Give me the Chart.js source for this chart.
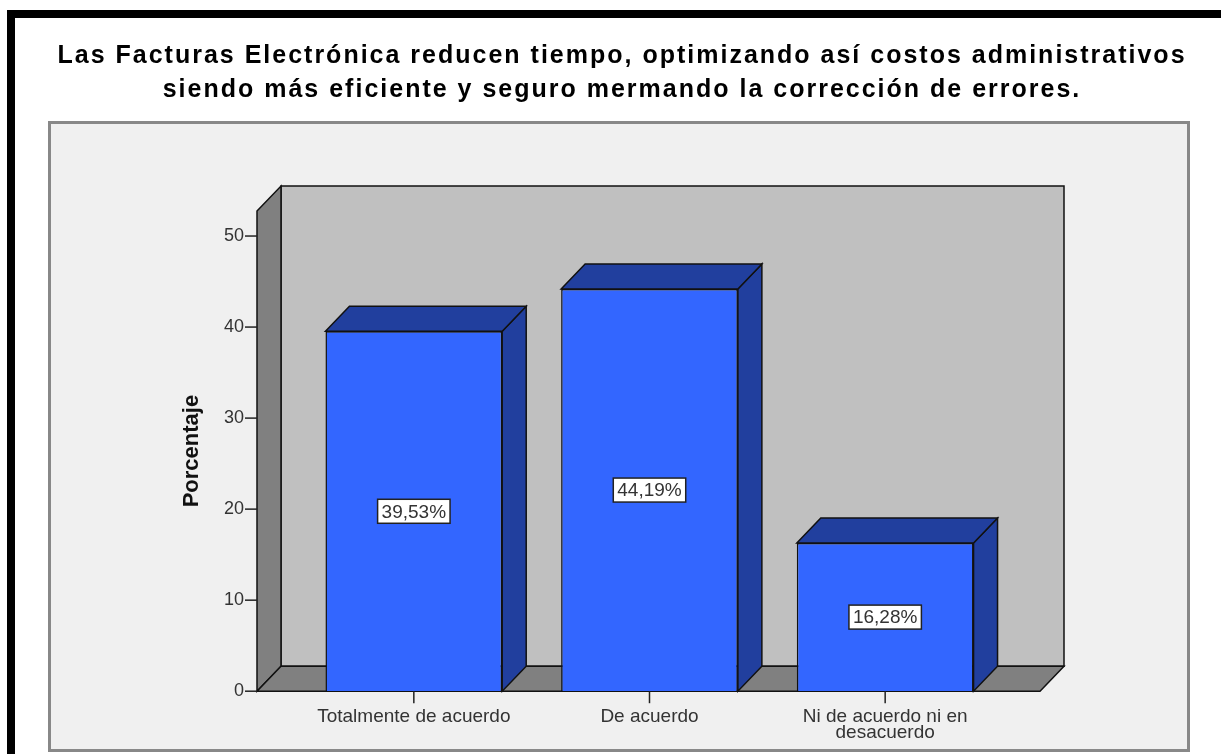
<!DOCTYPE html>
<html>
<head>
<meta charset="utf-8">
<script src="https://cdn.jsdelivr.net/npm/chart.js@4.4.1/dist/chart.umd.min.js"></script>
<style>
    html, body { margin: 0; background: #fff; }
    canvas { display: block; }
</style>
</head>
<body>
<canvas id="grafico" width="1221" height="754"></canvas>
<script>
var tituloLineas = [
    'Las Facturas Electrónica reducen tiempo, optimizando así costos administrativos',
    'siendo más eficiente y seguro mermando la corrección de errores.'
]
var categorias = ['Totalmente de acuerdo', 'De acuerdo', ['Ni de acuerdo ni en', 'desacuerdo']]
var porcentajes = [39.53, 44.19, 16.28]
var ticksY = [0, 10, 20, 30, 40, 50]
var maxY = 52.75

// profundidad del efecto 3D (px)
var DX = 24
var DY = -25

function poligono(ctx, pts, relleno) {
    ctx.beginPath()
    ctx.moveTo(pts[0][0], pts[0][1])
    for (var i = 1; i < pts.length; i++) ctx.lineTo(pts[i][0], pts[i][1])
    ctx.closePath()
    ctx.fillStyle = relleno
    ctx.fill()
    ctx.strokeStyle = '#111'
    ctx.lineWidth = 1.5
    ctx.stroke()
}

var fondo = {
    id: 'fondo',
    beforeDraw: function (chart) {
        var ctx = chart.ctx
        ctx.save()
        ctx.fillStyle = '#fff'
        ctx.fillRect(0, 0, chart.width, chart.height)
        // marco negro
        ctx.fillStyle = '#000'
        ctx.fillRect(7, 10, chart.width - 7, 8)
        ctx.fillRect(7, 10, 8, chart.height - 10)
        // recuadro gris del grafico
        ctx.fillStyle = '#f0f0f0'
        ctx.fillRect(48, 121, 1142, 630)
        ctx.strokeStyle = '#888'
        ctx.lineWidth = 3
        ctx.strokeRect(49.5, 122.5, 1139, 628)
        // titulo
        ctx.fillStyle = '#000'
        ctx.font = 'bold 25px "Liberation Sans", Arial, sans-serif'
        ctx.letterSpacing = '2px'
        ctx.textAlign = 'center'
        ctx.textBaseline = 'alphabetic'
        ctx.fillText(tituloLineas[0], 622, 63)
        ctx.fillText(tituloLineas[1], 622, 97)
        ctx.restore()
    }
}

var escena3d = {
    id: 'escena3d',
    beforeDatasetsDraw: function (chart) {
        var ctx = chart.ctx
        var area = chart.chartArea
        var y = chart.scales.y
        var x = chart.scales.x
        var y0 = y.getPixelForValue(0)
        var yTop = y.getPixelForValue(maxY)
        var xL = area.left - 39
        var xR = area.right + 37
        ctx.save()
        // pared del fondo
        poligono(ctx, [[xL + DX, yTop + DY], [xR + DX, yTop + DY], [xR + DX, y0 + DY], [xL + DX, y0 + DY]], '#c0c0c0')
        // pared izquierda
        poligono(ctx, [[xL, yTop], [xL + DX, yTop + DY], [xL + DX, y0 + DY], [xL, y0]], '#808080')
        // piso
        poligono(ctx, [[xL, y0], [xR, y0], [xR + DX, y0 + DY], [xL + DX, y0 + DY]], '#808080')
        // marcas del eje Y
        ctx.strokeStyle = '#222'
        ctx.lineWidth = 1.5
        ticksY.forEach(function (v) {
            var py = y.getPixelForValue(v)
            ctx.beginPath()
            ctx.moveTo(xL - 12, py)
            ctx.lineTo(xL, py)
            ctx.stroke()
        })
        // marcas del eje X
        categorias.forEach(function (c, i) {
            var px = x.getPixelForValue(i)
            ctx.beginPath()
            ctx.moveTo(px, y0)
            ctx.lineTo(px, y0 + 12)
            ctx.stroke()
        })
        ctx.restore()
    },
    afterDatasetsDraw: function (chart) {
        var ctx = chart.ctx
        var meta = chart.getDatasetMeta(0)
        ctx.save()
        meta.data.forEach(function (bar, i) {
            var p = bar.getProps(['x', 'y', 'base', 'width'], true)
            var izq = p.x - p.width / 2
            var der = p.x + p.width / 2
            // cara lateral y superior
            poligono(ctx, [[der, p.y], [der + DX, p.y + DY], [der + DX, p.base + DY], [der, p.base]], '#213f9e')
            poligono(ctx, [[izq, p.y], [izq + DX, p.y + DY], [der + DX, p.y + DY], [der, p.y]], '#213f9e')
            // etiqueta de valor
            var texto = porcentajes[i].toFixed(2).replace('.', ',') + '%'
            ctx.font = '19px "Liberation Sans", Arial, sans-serif'
            var w = ctx.measureText(texto).width + 8
            var h = 24
            var cy = (p.y + p.base) / 2
            ctx.fillStyle = '#fff'
            ctx.fillRect(p.x - w / 2, cy - h / 2, w, h)
            ctx.strokeStyle = '#222'
            ctx.lineWidth = 1.5
            ctx.strokeRect(p.x - w / 2, cy - h / 2, w, h)
            ctx.fillStyle = '#333'
            ctx.textAlign = 'center'
            ctx.textBaseline = 'middle'
            ctx.fillText(texto, p.x, cy + 1)
        })
        ctx.restore()
    }
}

var ctx = document.getElementById('grafico').getContext('2d')
var chart = new Chart(ctx, {
    type: 'bar',
    data: {
        labels: categorias,
        datasets: [{
            label: 'Porcentaje',
            data: porcentajes,
            backgroundColor: '#3366ff',
            borderColor: '#111',
            borderWidth: 1.5,
            categoryPercentage: 1,
            barPercentage: 0.75
        }]
    },
    options: {
        responsive: false,
        animation: false,
        layout: {
            padding: { top: 211, left: 176, right: 218, bottom: 12 }
        },
        plugins: {
            legend: { display: false },
            tooltip: { enabled: false }
        },
        scales: {
            x: {
                grid: { display: false, drawTicks: false },
                border: { display: false },
                ticks: {
                    color: '#333',
                    padding: 17,
                    maxRotation: 0,
                    autoSkip: false,
                    font: { family: '"Liberation Sans", Arial, sans-serif', size: 19, lineHeight: 0.85 }
                },
                afterFit: function (scale) { scale.height = 50 }
            },
            y: {
                min: 0,
                max: maxY,
                grid: { display: false, drawTicks: false },
                border: { display: false },
                afterBuildTicks: function (scale) {
                    scale.ticks = ticksY.map(function (v) { return { value: v } })
                },
                ticks: {
                    color: '#333',
                    padding: 52,
                    font: { family: '"Liberation Sans", Arial, sans-serif', size: 18 }
                },
                title: {
                    display: true,
                    text: 'Porcentaje',
                    color: '#111',
                    padding: { top: 3, bottom: 0 },
                    font: { family: '"Liberation Sans", Arial, sans-serif', size: 22, weight: 'bold' }
                },
                afterFit: function (scale) { scale.width = 120 }
            }
        }
    },
    plugins: [fondo, escena3d]
})
</script>
</body>
</html>
